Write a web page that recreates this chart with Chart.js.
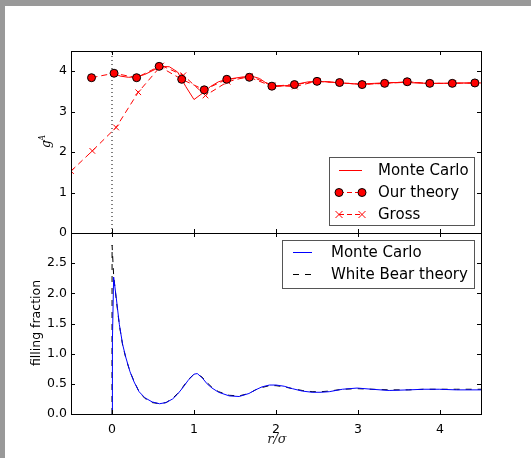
<!DOCTYPE html>
<html>
<head>
<meta charset="utf-8">
<script src="https://cdn.jsdelivr.net/npm/chart.js@4.4.0/dist/chart.umd.min.js"></script>
<style>
    html, body { margin: 0; padding: 0; background: #999; overflow: hidden; }
    #page { position: absolute; left: 5px; top: 6px; width: 526px; height: 452px; background: #fff; }
    canvas { position: absolute; left: 0; top: 0; }
</style>
</head>
<body>
<div id="page"></div>
<canvas id="topChart" width="531" height="458"></canvas>
<canvas id="bottomChart" width="531" height="458"></canvas>
<script>
// tick values
const xTicks = [0, 1, 2, 3, 4];
const gTicks = [0, 1, 2, 3, 4];
const fillTicks = [0, 0.5, 1.0, 1.5, 2.0, 2.5];

// upper panel: g^A, Monte Carlo
const mcUpperR = [0.02, 0.1, 0.2, 0.3, 0.4, 0.5, 0.6, 0.7, 0.8, 0.9, 1.0, 1.1, 1.2, 1.3, 1.4, 1.5, 1.6, 1.7, 1.8, 1.9, 2.0, 2.2, 2.4, 2.6, 2.8, 3.0, 3.2, 3.4, 3.6, 3.8, 4.0, 4.2, 4.5];
const mcUpperG = [3.95, 3.88, 3.85, 3.86, 3.92, 4.02, 4.12, 4.11, 3.98, 3.62, 3.30, 3.45, 3.62, 3.74, 3.80, 3.83, 3.86, 3.88, 3.82, 3.68, 3.62, 3.66, 3.74, 3.74, 3.71, 3.68, 3.70, 3.72, 3.72, 3.70, 3.70, 3.71, 3.71];

// upper panel: our theory
const ourR = [-0.25, 0.025, 0.3, 0.575, 0.85, 1.125, 1.4, 1.675, 1.95, 2.225, 2.5, 2.775, 3.05, 3.325, 3.6, 3.875, 4.15, 4.425];
const ourG = [3.84, 3.95, 3.84, 4.12, 3.80, 3.54, 3.80, 3.85, 3.63, 3.67, 3.75, 3.72, 3.67, 3.70, 3.74, 3.70, 3.70, 3.71];

// upper panel: Gross
const grossR = [-0.5, -0.24, 0.05, 0.32, 0.6, 0.87, 1.14, 1.41, 1.68, 1.96, 2.23, 2.51, 2.78, 3.06, 3.33, 3.61, 3.88, 4.16, 4.43];
const grossG = [1.53, 2.03, 2.61, 3.48, 4.14, 3.90, 3.40, 3.74, 3.88, 3.65, 3.62, 3.76, 3.71, 3.68, 3.70, 3.73, 3.70, 3.70, 3.71];

// lower panel: filling fraction, Monte Carlo
const mcLowR = [0, 0.005, 0.02, 0.05, 0.09, 0.13, 0.17, 0.22, 0.27, 0.33, 0.40, 0.49, 0.58, 0.66, 0.74, 0.80, 0.86, 0.93, 1.0, 1.04, 1.10, 1.16, 1.22, 1.30, 1.43, 1.55, 1.67, 1.75, 1.83, 1.92, 2.0, 2.1, 2.2, 2.32, 2.44, 2.55, 2.65, 2.81, 2.99, 3.17, 3.38, 3.62, 3.8, 3.99, 4.2, 4.5];
const mcLowF = [0, 1.2, 2.27, 1.95, 1.48, 1.15, 0.93, 0.70, 0.53, 0.37, 0.27, 0.20, 0.17, 0.19, 0.25, 0.33, 0.43, 0.56, 0.66, 0.67, 0.60, 0.50, 0.43, 0.36, 0.30, 0.29, 0.34, 0.40, 0.45, 0.48, 0.48, 0.46, 0.42, 0.38, 0.36, 0.36, 0.37, 0.41, 0.43, 0.41, 0.39, 0.40, 0.41, 0.41, 0.40, 0.40];

// lower panel: White Bear theory
const wbR = [0, 0.001, 0.02, 0.05, 0.09, 0.13, 0.17, 0.22, 0.27, 0.33, 0.40, 0.49, 0.58, 0.66, 0.74, 0.80, 0.86, 0.93, 1.0, 1.04, 1.10, 1.16, 1.22, 1.30, 1.43, 1.55, 1.67, 1.75, 1.83, 1.92, 2.0, 2.1, 2.2, 2.32, 2.44, 2.55, 2.65, 2.81, 2.99, 3.17, 3.38, 3.62, 3.8, 3.99, 4.2, 4.5];
const wbF = [0, 2.8, 2.3, 1.92, 1.47, 1.14, 0.92, 0.70, 0.54, 0.37, 0.26, 0.19, 0.17, 0.19, 0.26, 0.34, 0.44, 0.57, 0.66, 0.66, 0.61, 0.52, 0.44, 0.37, 0.31, 0.30, 0.34, 0.40, 0.44, 0.47, 0.47, 0.45, 0.42, 0.39, 0.37, 0.37, 0.38, 0.41, 0.42, 0.41, 0.40, 0.40, 0.41, 0.41, 0.41, 0.41];

const FONT = '"DejaVu Sans", sans-serif';

function pts(xs, ys) {
    return xs.map((x, i) => ({ x: x, y: ys[i] }));
}

// draw a legend marker
function drawMarker(ctx, kind, x, y) {
    if (kind === 'circle') {
        ctx.beginPath();
        ctx.arc(x, y, 4, 0, Math.PI * 2);
        ctx.fillStyle = '#ff0000';
        ctx.fill();
        ctx.strokeStyle = '#000';
        ctx.lineWidth = 1;
        ctx.setLineDash([]);
        ctx.stroke();
    } else if (kind === 'cross') {
        ctx.beginPath();
        ctx.moveTo(x - 3.5, y - 3.5); ctx.lineTo(x + 3.5, y + 3.5);
        ctx.moveTo(x - 3.5, y + 3.5); ctx.lineTo(x + 3.5, y - 3.5);
        ctx.strokeStyle = '#ff0000';
        ctx.lineWidth = 1;
        ctx.setLineDash([]);
        ctx.stroke();
    }
}

function drawLegend(ctx, box, items) {
    ctx.save();
    ctx.fillStyle = '#fff';
    ctx.fillRect(box.x, box.y, box.w, box.h);
    ctx.strokeStyle = '#555';
    ctx.lineWidth = 1;
    ctx.strokeRect(box.x + 0.5, box.y + 0.5, box.w, box.h);
    items.forEach((it, i) => {
        const y = box.firstY + i * box.step;
        ctx.beginPath();
        ctx.setLineDash(it.dash || []);
        ctx.strokeStyle = it.color;
        ctx.lineWidth = 1;
        ctx.moveTo(box.x1, y + 0.5);
        ctx.lineTo(box.x2, y + 0.5);
        ctx.stroke();
        if (it.marker) {
            drawMarker(ctx, it.marker, box.x1, y + 0.5);
            drawMarker(ctx, it.marker, box.x2, y + 0.5);
        }
        ctx.setLineDash([]);
        ctx.fillStyle = '#000';
        ctx.font = '15px ' + FONT;
        ctx.textBaseline = 'middle';
        ctx.textAlign = 'left';
        ctx.fillText(it.label, box.tx, y + 1);
    });
    ctx.restore();
}

// frame box and inward ticks on all sides
const frameTicks = {
    id: 'frameTicks',
    afterDatasetsDraw(chart, args, opts) {
        const { ctx, chartArea: a, scales } = chart;
        ctx.save();
        ctx.strokeStyle = '#000';
        ctx.lineWidth = 1;
        ctx.setLineDash([]);
        ctx.strokeRect(Math.round(a.left) + 0.5, Math.round(a.top) + 0.5,
            Math.round(a.right - a.left), Math.round(a.bottom - a.top));
        ctx.beginPath();
        xTicks.forEach(v => {
            const px = Math.round(scales.x.getPixelForValue(v)) + 0.5;
            ctx.moveTo(px, a.top); ctx.lineTo(px, a.top + 4);
            ctx.moveTo(px, a.bottom); ctx.lineTo(px, a.bottom - 4);
        });
        opts.yTicks.forEach(v => {
            const py = Math.round(scales.y.getPixelForValue(v)) + 0.5;
            ctx.moveTo(a.left, py); ctx.lineTo(a.left + 4, py);
            ctx.moveTo(a.right, py); ctx.lineTo(a.right - 4, py);
        });
        ctx.stroke();
        ctx.restore();
    }
};

function xScale(showLabels, height) {
    return {
        type: 'linear',
        min: -0.5,
        max: 4.5,
        grid: { display: false, drawTicks: false },
        border: { display: false },
        afterBuildTicks: s => { s.ticks = xTicks.map(v => ({ value: v })); },
        afterFit: s => { s.height = height; },
        ticks: {
            display: showLabels,
            padding: 8,
            color: '#000',
            font: { family: FONT, size: 12.5 },
            callback: v => String(v)
        }
    };
}

function yScale(min, max, tickVals, fmt) {
    return {
        type: 'linear',
        min: min,
        max: max,
        grid: { display: false, drawTicks: false },
        border: { display: false },
        afterBuildTicks: s => { s.ticks = tickVals.map(v => ({ value: v })); },
        afterFit: s => { s.width = 50; },
        ticks: {
            padding: 4,
            color: '#000',
            font: { family: FONT, size: 12.5 },
            callback: fmt
        }
    };
}

// upper chart
new Chart(document.getElementById('topChart'), {
    type: 'line',
    data: {
        datasets: [{
            label: 'Our theory',
            data: pts(ourR, ourG),
            borderColor: '#ff0000',
            borderWidth: 1,
            borderDash: [6, 4],
            pointRadius: 4,
            pointBackgroundColor: '#ff0000',
            pointBorderColor: '#000',
            pointBorderWidth: 1
        }, {
            label: 'Gross',
            data: pts(grossR, grossG),
            borderColor: '#ff0000',
            borderWidth: 1,
            borderDash: [6, 4],
            pointStyle: 'crossRot',
            pointRadius: 4,
            pointBorderColor: '#ff0000',
            pointBorderWidth: 1
        }, {
            label: 'Monte Carlo',
            data: pts(mcUpperR, mcUpperG),
            borderColor: '#ff0000',
            borderWidth: 1,
            pointRadius: 0
        }, {
            label: 'r = 0',
            data: [{ x: 0, y: 0 }, { x: 0, y: 4.5 }],
            borderColor: '#000',
            borderWidth: 1,
            borderDash: [1, 3],
            pointRadius: 0
        }]
    },
    options: {
        responsive: false,
        animation: false,
        events: [],
        layout: { padding: { left: 21, right: 50, top: 51, bottom: 225 } },
        plugins: {
            legend: { display: false },
            tooltip: { enabled: false },
            frameTicks: { yTicks: gTicks }
        },
        scales: {
            x: xScale(false, 0),
            y: yScale(0, 4.5, gTicks, v => String(v))
        }
    },
    plugins: [frameTicks, {
        id: 'topExtras',
        afterDraw(chart) {
            const ctx = chart.ctx;
            drawLegend(ctx, { x: 329, y: 157, w: 145, h: 68, firstY: 170, step: 22, x1: 339, x2: 362, tx: 378 }, [
                { label: 'Monte Carlo', color: '#ff0000' },
                { label: 'Our theory', color: '#ff0000', dash: [5, 3], marker: 'circle' },
                { label: 'Gross', color: '#ff0000', dash: [5, 3], marker: 'cross' }
            ]);
            // y title g^A
            ctx.save();
            ctx.translate(50, 142);
            ctx.rotate(-Math.PI / 2);
            ctx.fillStyle = '#000';
            ctx.textBaseline = 'alphabetic';
            ctx.textAlign = 'left';
            ctx.font = 'italic 12px "DejaVu Serif", serif';
            ctx.fillText('g', -6, 0);
            ctx.font = 'italic 8.5px "DejaVu Serif", serif';
            ctx.fillText('A', 1, -5);
            ctx.restore();
        }
    }]
});

// lower chart
new Chart(document.getElementById('bottomChart'), {
    type: 'line',
    data: {
        datasets: [{
            label: 'Monte Carlo',
            data: pts(mcLowR, mcLowF),
            borderColor: '#0000ff',
            borderWidth: 1,
            pointRadius: 0
        }, {
            label: 'White Bear theory',
            data: pts(wbR, wbF),
            borderColor: '#000',
            borderWidth: 1,
            borderDash: [6, 6],
            pointRadius: 0
        }]
    },
    options: {
        responsive: false,
        animation: false,
        events: [],
        layout: { padding: { left: 21, right: 50, top: 233, bottom: 19 } },
        plugins: {
            legend: { display: false },
            tooltip: { enabled: false },
            frameTicks: { yTicks: fillTicks }
        },
        scales: {
            x: xScale(true, 25),
            y: yScale(0, 3, fillTicks, v => v.toFixed(1))
        }
    },
    plugins: [frameTicks, {
        id: 'bottomExtras',
        afterDraw(chart) {
            const ctx = chart.ctx;
            drawLegend(ctx, { x: 282, y: 240, w: 192, h: 48, firstY: 252, step: 22, x1: 293, x2: 312, tx: 331 }, [
                { label: 'Monte Carlo', color: '#0000ff' },
                { label: 'White Bear theory', color: '#000', dash: [6, 6] }
            ]);
            ctx.save();
            ctx.fillStyle = '#000';
            // y title
            ctx.translate(37, 323);
            ctx.rotate(-Math.PI / 2);
            ctx.font = '12.5px ' + FONT;
            ctx.textAlign = 'center';
            ctx.textBaseline = 'middle';
            ctx.fillText('filling fraction', 0, 0);
            ctx.restore();
            // x title r/σ
            ctx.save();
            ctx.fillStyle = '#222';
            ctx.font = 'italic 13px "DejaVu Serif", serif';
            ctx.textAlign = 'center';
            ctx.textBaseline = 'middle';
            ctx.fillText('r/σ', 277, 440);
            ctx.restore();
        }
    }]
});
</script>
</body>
</html>
